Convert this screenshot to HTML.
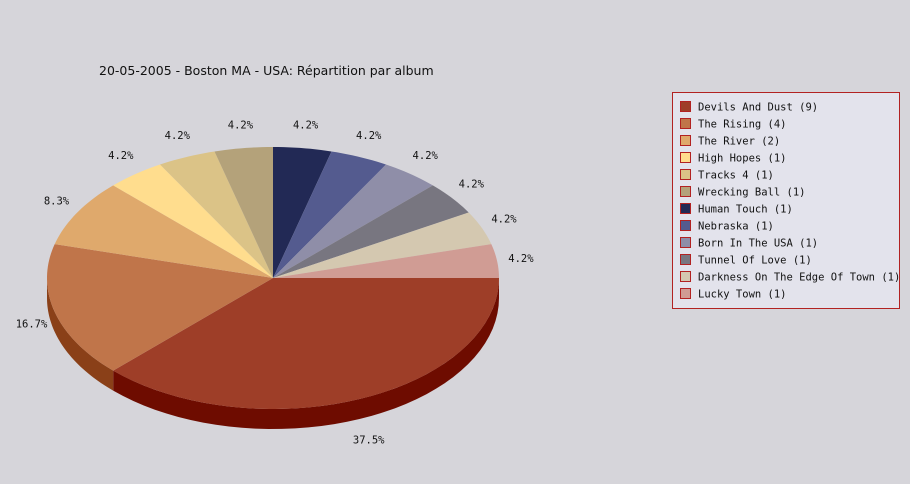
<!DOCTYPE html>
<html><head><meta charset="utf-8">
<style>
body{margin:0;background:#d6d5da;width:910px;height:480px;overflow:hidden;font-family:"DejaVu Sans","Liberation Sans",sans-serif}
</style></head>
<body>
<svg id="chart" width="910" height="480" xmlns="http://www.w3.org/2000/svg">
<rect width="910" height="480" fill="#d6d5da"/>
<text x="99" y="75" font-size="12.5" fill="#111" font-family="DejaVu Sans, Liberation Sans, sans-serif">20-05-2005 - Boston MA - USA:  Répartition par album</text>
<g id="pie"></g>
<g id="legend">
<rect x="672.5" y="92.5" width="227" height="216" fill="#e3e3ec" stroke="#b22222" stroke-width="1"/>
</g>
</svg>
<script>
const categories=["Devils And Dust","The Rising","The River","High Hopes","Tracks 4","Wrecking Ball","Human Touch","Nebraska","Born In The USA","Tunnel Of Love","Darkness On The Edge Of Town","Lucky Town"];
const values=[9,4,2,1,1,1,1,1,1,1,1,1];
const colors=["#9e3e28","#c0754a","#dfa96c","#ffdd8e","#dbc387","#b4a27a","#222955","#545b8f","#8f8ea8","#787680","#d4c8b0","#d09c94"];
const sideColors=["#6e0c00","#8a4018","#a9733c","#c9a65c","#a99255","#83734c","#0a0f30","#2a3060","#606078","#50505a","#a89c84","#a06a62"];
const NS="http://www.w3.org/2000/svg";
const cx=273,cy=278,rx=226,ry=131,depth=20;
const pie=document.getElementById('pie');
const total=values.reduce((a,b)=>a+b,0);
function pt(t,dy){return [cx+rx*Math.cos(t),cy+ry*Math.sin(t)+(dy||0)];}
function mk(tag,attrs){const e=document.createElementNS(NS,tag);for(const k in attrs)e.setAttribute(k,attrs[k]);return e;}
let start=0;const slices=[];
values.forEach((v,i)=>{const a=start,b=start+v/total*2*Math.PI;slices.push([a,b]);start=b;});
// sides
slices.forEach(([a,b],i)=>{
  const s=Math.max(a,0),e=Math.min(b,Math.PI);
  if(e<=s)return;
  let d="";const N=40;
  for(let k=0;k<=N;k++){const t=s+(e-s)*k/N;const p=pt(t);d+=(k?"L":"M")+p[0].toFixed(2)+","+p[1].toFixed(2);}
  for(let k=N;k>=0;k--){const t=s+(e-s)*k/N;const p=pt(t,depth);d+="L"+p[0].toFixed(2)+","+p[1].toFixed(2);}
  const el=mk('path',{d:d+"Z",fill:sideColors[i]});
  
  
  pie.appendChild(el);
});
// tops
slices.forEach(([a,b],i)=>{
  let d="M"+cx+","+cy;const N=Math.max(6,Math.ceil((b-a)*40));
  for(let k=0;k<=N;k++){const t=a+(b-a)*k/N;const p=pt(t);d+="L"+p[0].toFixed(2)+","+p[1].toFixed(2);}
  const el=mk('path',{d:d+"Z",fill:colors[i]});
  
  
  pie.appendChild(el);
});
// labels
slices.forEach(([a,b],i)=>{
  const m=(a+b)/2;const s=Math.sin(m);
  const x=cx+250*Math.cos(m),y=cy+155*s+(s>0?depth*s:0)+4;
  const el=mk('text',{x:x.toFixed(1),y:y.toFixed(1),'font-size':'10.5','text-anchor':'middle',fill:'#111','font-family':'DejaVu Sans Mono, Liberation Mono, monospace'});
  el.textContent=(values[i]/total*100).toFixed(1)+"%";
  
  
  pie.appendChild(el);
});
// legend
const lg=document.getElementById('legend');
categories.forEach((c,i)=>{
  const y=101+i*17;
  const r=mk('rect',{x:680.5,y:y+0.5,width:10,height:10,fill:colors[i],stroke:'#b22222','stroke-width':1});
  
  
  lg.appendChild(r);
  const t=mk('text',{x:698,y:y+9.5,'font-size':'10.5',fill:'#111','font-family':'DejaVu Sans Mono, Liberation Mono, monospace'});
  t.textContent=c+" ("+values[i]+")";
  
  
  lg.appendChild(t);
});
</script>
</body></html>
